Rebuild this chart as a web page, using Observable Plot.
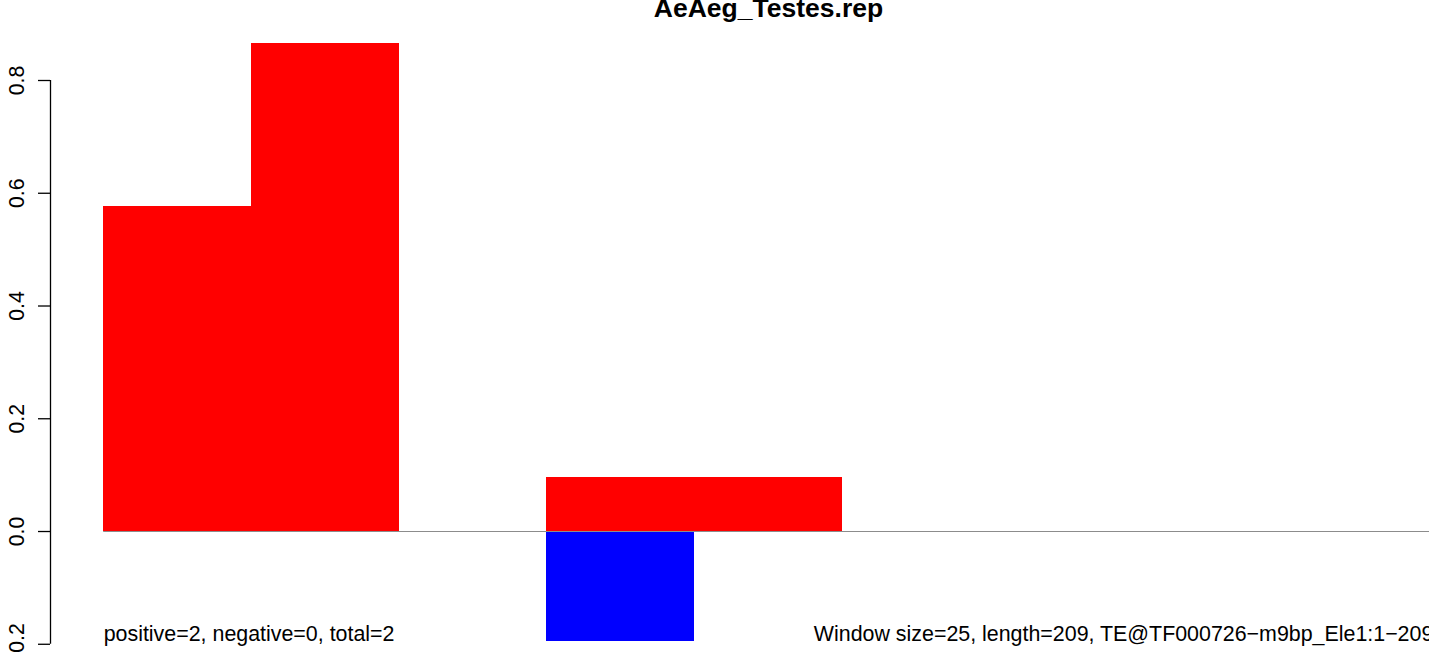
<!DOCTYPE html>
<html>
<head>
<meta charset="utf-8">
<script src="https://cdn.jsdelivr.net/npm/d3@7"></script>
<script src="https://cdn.jsdelivr.net/npm/@observablehq/plot@0.6"></script>
<style>
  html, body { margin: 0; padding: 0; background: #fff; overflow: hidden; }
  #chart svg { display: block; overflow: hidden; }
</style>
</head>
<body>
<div id="chart"></div>
<script>
// ---- data ----
const title = "AeAeg_Testes.rep";
const windowSize = 25;
const windowStarts = [0, 25, 50, 75, 100, 125, 150, 175, 200];
const positiveValues = [0.577, 0.866, 0, 0.096, 0.096, 0, 0, 0, 0];
const negativeValues = [0, 0, 0, -0.195, 0, 0, 0, 0, 0];
const yTicks = [-0.2, 0, 0.2, 0.4, 0.6, 0.8];
const leftNote = "positive=2, negative=0, total=2";
const rightNote = "Window size=25, length=209, TE@TF000726\u2212m9bp_Ele1:1\u2212209";
const xLimits = [0, 225];

// ---- derived tables ----
const bars = [];
windowStarts.forEach((s, i) => {
  if (positiveValues[i] !== 0) bars.push({x1: s, x2: s + windowSize, v: positiveValues[i], c: "#ff0000"});
  if (negativeValues[i] !== 0) bars.push({x1: s, x2: s + windowSize, v: negativeValues[i], c: "#0000ff"});
});
const pad = 0.04 * (xLimits[1] - xLimits[0]);
const xDomain = [xLimits[0] - pad, xLimits[1] + pad];
const yMin = d3.min(negativeValues);
const fmt = d => (d < 0 ? "\u2212" : "") + Math.abs(d).toFixed(1);

const font = "'Liberation Sans', Arial, Helvetica, sans-serif";

const chart = Plot.plot({
  width: 1429,
  height: 652,
  marginTop: 0,
  marginBottom: 0,
  marginLeft: 50,
  marginRight: 0,
  style: {fontFamily: font, background: "#fff"},
  x: {type: "linear", domain: xDomain, range: [50, 1486], axis: null},
  y: {type: "linear", domain: [-0.2146, 0.9419], axis: null},
  marks: [
    Plot.rectY(bars, {x1: "x1", x2: "x2", y1: 0, y2: "v", fill: "c", inset: 0, shapeRendering: "crispEdges"}),
    Plot.ruleY([0], {x1: xLimits[0], x2: xLimits[1], stroke: "#8c8c8c", strokeWidth: 1}),
    Plot.ruleX([xDomain[0]], {y1: yTicks[0], y2: yTicks[yTicks.length - 1], stroke: "#000", strokeWidth: 1.3}),
    Plot.axisY({ticks: yTicks, anchor: "left", label: null, tickSize: 12, tickFormat: () => "", stroke: "#000", strokeWidth: 1.3}),
    Plot.text(yTicks, {
      y: d => d, x: xDomain[0], text: fmt, rotate: -90, dx: -27,
      textAnchor: "middle", lineAnchor: "bottom", fontSize: 21.3, fill: "#000"
    }),
    Plot.text([leftNote], {x: xLimits[0], y: yMin, text: d => d, textAnchor: "start", lineAnchor: "bottom", fontSize: 21.4, fill: "#000"}),
    Plot.text([rightNote], {x: xLimits[1], y: yMin, text: d => d, textAnchor: "end", lineAnchor: "bottom", fontSize: 21.4, fill: "#000"}),
    Plot.text([title], {x: (xDomain[0] + xDomain[1]) / 2, frameAnchor: "top", text: d => d, lineAnchor: "bottom", dy: 16, fontSize: 26.5, fontWeight: "bold", fill: "#000"})
  ]
});
document.getElementById("chart").appendChild(chart);
</script>
</body>
</html>
